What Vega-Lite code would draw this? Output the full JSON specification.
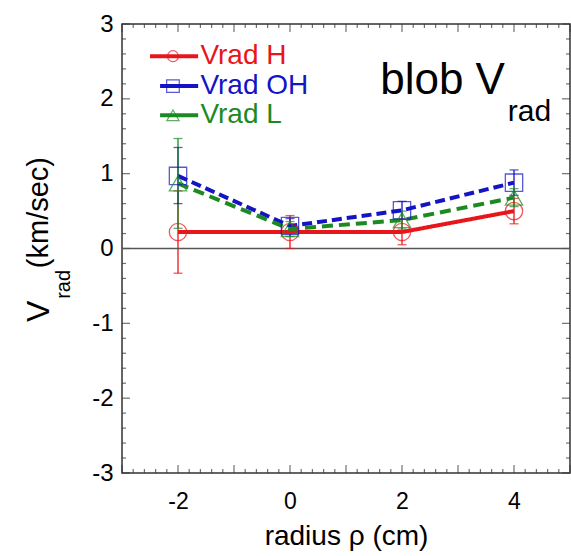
{
  "$schema": "https://vega.github.io/schema/vega-lite/v6.json",
  "width": 448,
  "height": 449,
  "autosize": {"type": "none"},
  "padding": {"left": 122, "top": 24, "right": 1, "bottom": 83},
  "background": "white",
  "config": {
    "view": {"stroke": "#333", "strokeWidth": 1.5},
    "font": "Liberation Sans",
    "axis": {"domain": false, "ticks": false, "tickSize": 0, "grid": false, "labelColor": "black", "titleColor": "black", "labelFont": "Liberation Sans", "titleFont": "Liberation Sans"}
  },
  "datasets": {
    "pts": [
      {"rho": -2, "series": "Vrad H", "v": 0.22, "lo": -0.33, "hi": 0.77},
      {"rho": 0, "series": "Vrad H", "v": 0.22, "lo": 0.0, "hi": 0.44},
      {"rho": 2, "series": "Vrad H", "v": 0.22, "lo": 0.05, "hi": 0.39},
      {"rho": 4, "series": "Vrad H", "v": 0.5, "lo": 0.33, "hi": 0.67},
      {"rho": -2, "series": "Vrad OH", "v": 0.97, "lo": 0.6, "hi": 1.35},
      {"rho": 0, "series": "Vrad OH", "v": 0.3, "lo": 0.2, "hi": 0.4},
      {"rho": 2, "series": "Vrad OH", "v": 0.51, "lo": 0.39, "hi": 0.63},
      {"rho": 4, "series": "Vrad OH", "v": 0.88, "lo": 0.71, "hi": 1.05},
      {"rho": -2, "series": "Vrad L", "v": 0.87, "lo": 0.27, "hi": 1.47},
      {"rho": 0, "series": "Vrad L", "v": 0.26, "lo": 0.16, "hi": 0.36},
      {"rho": 2, "series": "Vrad L", "v": 0.38, "lo": 0.26, "hi": 0.5},
      {"rho": 4, "series": "Vrad L", "v": 0.68, "lo": 0.56, "hi": 0.8}
    ],
    "xtick": [
      {"t": -3, "kind": "major"}, {"t": -2.8, "kind": "minor"}, {"t": -2.6, "kind": "minor"}, {"t": -2.4, "kind": "minor"}, {"t": -2.2, "kind": "minor"},
      {"t": -2, "kind": "major"}, {"t": -1.8, "kind": "minor"}, {"t": -1.6, "kind": "minor"}, {"t": -1.4, "kind": "minor"}, {"t": -1.2, "kind": "minor"},
      {"t": -1, "kind": "major"}, {"t": -0.8, "kind": "minor"}, {"t": -0.6, "kind": "minor"}, {"t": -0.4, "kind": "minor"}, {"t": -0.2, "kind": "minor"},
      {"t": 0, "kind": "major"}, {"t": 0.2, "kind": "minor"}, {"t": 0.4, "kind": "minor"}, {"t": 0.6, "kind": "minor"}, {"t": 0.8, "kind": "minor"},
      {"t": 1, "kind": "major"}, {"t": 1.2, "kind": "minor"}, {"t": 1.4, "kind": "minor"}, {"t": 1.6, "kind": "minor"}, {"t": 1.8, "kind": "minor"},
      {"t": 2, "kind": "major"}, {"t": 2.2, "kind": "minor"}, {"t": 2.4, "kind": "minor"}, {"t": 2.6, "kind": "minor"}, {"t": 2.8, "kind": "minor"},
      {"t": 3, "kind": "major"}, {"t": 3.2, "kind": "minor"}, {"t": 3.4, "kind": "minor"}, {"t": 3.6, "kind": "minor"}, {"t": 3.8, "kind": "minor"},
      {"t": 4, "kind": "major"}, {"t": 4.2, "kind": "minor"}, {"t": 4.4, "kind": "minor"}, {"t": 4.6, "kind": "minor"}, {"t": 4.8, "kind": "minor"},
      {"t": 5, "kind": "major"}
    ],
    "ytick": [
      {"t": -3, "kind": "major"}, {"t": -2.8, "kind": "minor"}, {"t": -2.6, "kind": "minor"}, {"t": -2.4, "kind": "minor"}, {"t": -2.2, "kind": "minor"},
      {"t": -2, "kind": "major"}, {"t": -1.8, "kind": "minor"}, {"t": -1.6, "kind": "minor"}, {"t": -1.4, "kind": "minor"}, {"t": -1.2, "kind": "minor"},
      {"t": -1, "kind": "major"}, {"t": -0.8, "kind": "minor"}, {"t": -0.6, "kind": "minor"}, {"t": -0.4, "kind": "minor"}, {"t": -0.2, "kind": "minor"},
      {"t": 0, "kind": "major"}, {"t": 0.2, "kind": "minor"}, {"t": 0.4, "kind": "minor"}, {"t": 0.6, "kind": "minor"}, {"t": 0.8, "kind": "minor"},
      {"t": 1, "kind": "major"}, {"t": 1.2, "kind": "minor"}, {"t": 1.4, "kind": "minor"}, {"t": 1.6, "kind": "minor"}, {"t": 1.8, "kind": "minor"},
      {"t": 2, "kind": "major"}, {"t": 2.2, "kind": "minor"}, {"t": 2.4, "kind": "minor"}, {"t": 2.6, "kind": "minor"}, {"t": 2.8, "kind": "minor"},
      {"t": 3, "kind": "major"}
    ]
  },
  "layer": [
    {
      "data": {"name": "pts"},
      "mark": {"type": "rule", "strokeWidth": 1.3},
      "encoding": {
        "x": {"field": "rho", "type": "quantitative", "title": "radius ρ (cm)", "scale": {"domain": [-3, 5], "nice": false, "zero": false},
          "axis": {"orient": "bottom", "values": [-3, -2, -1, 0, 1, 2, 3, 4, 5], "labelExpr": "datum.value % 2 === 0 ? toString(datum.value) : ''", "labelFontSize": 23, "labelPadding": 17, "title": "radius ρ (cm)", "titleFontSize": 28, "titleFontWeight": "normal", "titlePadding": 9}},
        "y": {"field": "lo", "type": "quantitative", "title": null, "scale": {"domain": [-3, 3], "nice": false, "zero": false},
          "axis": {"orient": "left", "values": [-3, -2, -1, 0, 1, 2, 3], "labelExpr": "toString(datum.value)", "labelFontSize": 24, "labelPadding": 9, "title": null}},
        "y2": {"field": "hi"},
        "color": {"field": "series", "type": "nominal", "scale": {"domain": ["Vrad H", "Vrad OH", "Vrad L"], "range": ["#e8161b", "#1414c4", "#1c8a22"]}, "legend": null}
      }
    },
    {
      "data": {"name": "xtick"},
      "transform": [{"filter": "datum.kind == 'major'"}],
      "mark": {"type": "tick", "orient": "vertical", "size": 8, "yOffset": -4, "thickness": 1.2, "color": "#333"},
      "encoding": {"x": {"field": "t", "type": "quantitative", "title": "radius ρ (cm)"}, "y": {"datum": -3, "type": "quantitative"}}
    },
    {
      "data": {"name": "xtick"},
      "transform": [{"filter": "datum.kind == 'minor'"}],
      "mark": {"type": "tick", "orient": "vertical", "size": 4, "yOffset": -2, "thickness": 1.2, "color": "#333"},
      "encoding": {"x": {"field": "t", "type": "quantitative", "title": "radius ρ (cm)"}, "y": {"datum": -3, "type": "quantitative"}}
    },
    {
      "data": {"name": "xtick"},
      "transform": [{"filter": "datum.kind == 'major'"}],
      "mark": {"type": "tick", "orient": "vertical", "size": 8, "yOffset": 4, "thickness": 1.2, "color": "#333"},
      "encoding": {"x": {"field": "t", "type": "quantitative", "title": "radius ρ (cm)"}, "y": {"datum": 3, "type": "quantitative"}}
    },
    {
      "data": {"name": "xtick"},
      "transform": [{"filter": "datum.kind == 'minor'"}],
      "mark": {"type": "tick", "orient": "vertical", "size": 4, "yOffset": 2, "thickness": 1.2, "color": "#333"},
      "encoding": {"x": {"field": "t", "type": "quantitative", "title": "radius ρ (cm)"}, "y": {"datum": 3, "type": "quantitative"}}
    },
    {
      "data": {"name": "ytick"},
      "transform": [{"filter": "datum.kind == 'major'"}],
      "mark": {"type": "tick", "orient": "horizontal", "size": 8, "xOffset": 4, "thickness": 1.2, "color": "#333"},
      "encoding": {"y": {"field": "t", "type": "quantitative", "title": null}, "x": {"datum": -3, "type": "quantitative"}}
    },
    {
      "data": {"name": "ytick"},
      "transform": [{"filter": "datum.kind == 'minor'"}],
      "mark": {"type": "tick", "orient": "horizontal", "size": 4, "xOffset": 2, "thickness": 1.2, "color": "#333"},
      "encoding": {"y": {"field": "t", "type": "quantitative", "title": null}, "x": {"datum": -3, "type": "quantitative"}}
    },
    {
      "data": {"name": "ytick"},
      "transform": [{"filter": "datum.kind == 'major'"}],
      "mark": {"type": "tick", "orient": "horizontal", "size": 8, "xOffset": -4, "thickness": 1.2, "color": "#333"},
      "encoding": {"y": {"field": "t", "type": "quantitative", "title": null}, "x": {"datum": 5, "type": "quantitative"}}
    },
    {
      "data": {"name": "ytick"},
      "transform": [{"filter": "datum.kind == 'minor'"}],
      "mark": {"type": "tick", "orient": "horizontal", "size": 4, "xOffset": -2, "thickness": 1.2, "color": "#333"},
      "encoding": {"y": {"field": "t", "type": "quantitative", "title": null}, "x": {"datum": 5, "type": "quantitative"}}
    },
    {
      "data": {"values": [{}]},
      "mark": {"type": "rule", "color": "#555", "strokeWidth": 1.5},
      "encoding": {"y": {"datum": 0, "type": "quantitative"}}
    },
    {
      "data": {"name": "pts"},
      "mark": {"type": "tick", "orient": "horizontal", "size": 9, "thickness": 1.3},
      "encoding": {
        "x": {"field": "rho", "type": "quantitative", "title": "radius ρ (cm)"},
        "y": {"field": "lo", "type": "quantitative", "title": null},
        "color": {"field": "series", "type": "nominal", "legend": null}
      }
    },
    {
      "data": {"name": "pts"},
      "mark": {"type": "tick", "orient": "horizontal", "size": 9, "thickness": 1.3},
      "encoding": {
        "x": {"field": "rho", "type": "quantitative", "title": "radius ρ (cm)"},
        "y": {"field": "hi", "type": "quantitative", "title": null},
        "color": {"field": "series", "type": "nominal", "legend": null}
      }
    },
    {
      "data": {"name": "pts"},
      "mark": {"type": "line", "strokeWidth": 4},
      "encoding": {
        "x": {"field": "rho", "type": "quantitative", "title": "radius ρ (cm)"},
        "y": {"field": "v", "type": "quantitative", "title": null},
        "color": {"field": "series", "type": "nominal", "legend": null},
        "strokeDash": {"field": "series", "type": "nominal", "scale": {"domain": ["Vrad H", "Vrad OH", "Vrad L"], "range": [[1, 0], [10, 5], [11, 6]]}, "legend": null}
      }
    },
    {
      "data": {"name": "pts"},
      "mark": {"type": "point", "filled": false, "strokeWidth": 1.3, "size": 300},
      "encoding": {
        "x": {"field": "rho", "type": "quantitative", "title": "radius ρ (cm)"},
        "y": {"field": "v", "type": "quantitative", "title": null},
        "color": {"field": "series", "type": "nominal", "legend": null},
        "shape": {"field": "series", "type": "nominal", "scale": {"domain": ["Vrad H", "Vrad OH", "Vrad L"], "range": ["circle", "square", "triangle-up"]}, "legend": null}
      }
    },
    {
      "data": {"values": [{}]},
      "mark": {"type": "rule", "color": "#e8161b", "strokeWidth": 4},
      "encoding": {"x": {"datum": -2.5, "type": "quantitative"}, "x2": {"datum": -1.64}, "y": {"datum": 2.57, "type": "quantitative"}}
    },
    {
      "data": {"values": [{}]},
      "mark": {"type": "point", "shape": "circle", "filled": false, "color": "#e8161b", "strokeWidth": 1.2, "size": 120},
      "encoding": {"x": {"datum": -2.09, "type": "quantitative"}, "y": {"datum": 2.57, "type": "quantitative"}}
    },
    {
      "data": {"values": [{}]},
      "mark": {"type": "text", "text": "Vrad H", "color": "#e8161b", "fontSize": 28, "align": "left", "baseline": "middle"},
      "encoding": {"x": {"datum": -1.6, "type": "quantitative"}, "y": {"datum": 2.57, "type": "quantitative"}}
    },
    {
      "data": {"values": [{}]},
      "mark": {"type": "rule", "color": "#1414c4", "strokeWidth": 4},
      "encoding": {"x": {"datum": -2.32, "type": "quantitative"}, "x2": {"datum": -1.64}, "y": {"datum": 2.17, "type": "quantitative"}}
    },
    {
      "data": {"values": [{}]},
      "mark": {"type": "point", "shape": "square", "filled": false, "color": "#1414c4", "strokeWidth": 1.2, "size": 160},
      "encoding": {"x": {"datum": -2.09, "type": "quantitative"}, "y": {"datum": 2.17, "type": "quantitative"}}
    },
    {
      "data": {"values": [{}]},
      "mark": {"type": "text", "text": "Vrad OH", "color": "#1414c4", "fontSize": 28, "align": "left", "baseline": "middle"},
      "encoding": {"x": {"datum": -1.6, "type": "quantitative"}, "y": {"datum": 2.17, "type": "quantitative"}}
    },
    {
      "data": {"values": [{}]},
      "mark": {"type": "rule", "color": "#1c8a22", "strokeWidth": 4},
      "encoding": {"x": {"datum": -2.32, "type": "quantitative"}, "x2": {"datum": -1.64}, "y": {"datum": 1.78, "type": "quantitative"}}
    },
    {
      "data": {"values": [{}]},
      "mark": {"type": "point", "shape": "triangle-up", "filled": false, "color": "#1c8a22", "strokeWidth": 1.2, "size": 150},
      "encoding": {"x": {"datum": -2.09, "type": "quantitative"}, "y": {"datum": 1.78, "type": "quantitative"}}
    },
    {
      "data": {"values": [{}]},
      "mark": {"type": "text", "text": "Vrad L", "color": "#1c8a22", "fontSize": 28, "align": "left", "baseline": "middle"},
      "encoding": {"x": {"datum": -1.6, "type": "quantitative"}, "y": {"datum": 1.78, "type": "quantitative"}}
    },
    {
      "data": {"values": [{}]},
      "mark": {"type": "text", "text": "blob V", "color": "black", "fontSize": 44, "align": "left", "baseline": "alphabetic"},
      "encoding": {"x": {"datum": 1.61, "type": "quantitative"}, "y": {"datum": 2.06, "type": "quantitative"}}
    },
    {
      "data": {"values": [{}]},
      "mark": {"type": "text", "text": "rad", "color": "black", "fontSize": 30, "align": "left", "baseline": "alphabetic"},
      "encoding": {"x": {"datum": 3.89, "type": "quantitative"}, "y": {"datum": 1.71, "type": "quantitative"}}
    },
    {
      "data": {"values": [{}]},
      "mark": {"type": "text", "text": "V", "color": "black", "fontSize": 32, "align": "center", "baseline": "middle", "angle": 270},
      "encoding": {"x": {"datum": -4.48, "type": "quantitative"}, "y": {"datum": -0.84, "type": "quantitative"}}
    },
    {
      "data": {"values": [{}]},
      "mark": {"type": "text", "text": "rad", "color": "black", "fontSize": 20, "align": "center", "baseline": "middle", "angle": 270},
      "encoding": {"x": {"datum": -4.04, "type": "quantitative"}, "y": {"datum": -0.48, "type": "quantitative"}}
    },
    {
      "data": {"values": [{}]},
      "mark": {"type": "text", "text": "(km/sec)", "color": "black", "fontSize": 29, "align": "center", "baseline": "middle", "angle": 270},
      "encoding": {"x": {"datum": -4.48, "type": "quantitative"}, "y": {"datum": 0.48, "type": "quantitative"}}
    }
  ]
}
